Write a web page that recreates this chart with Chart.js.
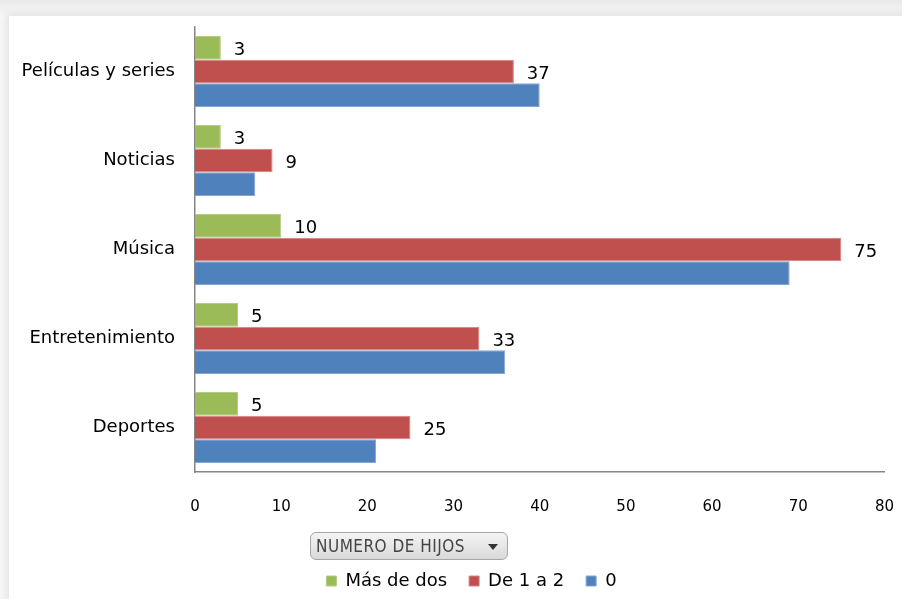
<!DOCTYPE html>
<html>
<head>
<meta charset="utf-8">
<script src="https://cdn.jsdelivr.net/npm/chart.js@4.4.1/dist/chart.umd.min.js"></script>
<style>
  html, body { margin: 0; padding: 0; }
  body {
    width: 902px; height: 599px; overflow: hidden; position: relative;
    background: linear-gradient(to bottom, #e9e9e9 0px, #f7f7f7 16px, #f7f7f7 100%);
    font-family: "DejaVu Sans", sans-serif;
  }
  #card {
    position: absolute; left: 9px; top: 16px; width: 920px; height: 620px;
    background: #ffffff; box-shadow: -3px -3px 8px rgba(0,0,0,0.08);
  }
  #wrap { position: absolute; left: 0; top: 0; width: 920px; height: 599px; }
  #btn {
    position: absolute; left: 310px; top: 532px; width: 198px; height: 28px;
    box-sizing: border-box; border: 1px solid #a6a6a6; border-radius: 6px;
    background: linear-gradient(to bottom, #f4f4f4, #d9d9d9);
    font-family: "DejaVu Sans Condensed", "DejaVu Sans", sans-serif; font-size: 17px;
    color: #444; line-height: 26px; padding-left: 5px; letter-spacing: 0.5px;
    white-space: nowrap;
  }
  #btn .arrow {
    position: absolute; right: 9px; top: 11px; width: 0; height: 0;
    border-left: 5px solid transparent; border-right: 5px solid transparent;
    border-top: 6px solid #333;
  }
</style>
</head>
<body>
<div id="card"></div>
<div id="wrap"><canvas id="c" width="920" height="599"></canvas></div>
<div id="btn">NUMERO DE HIJOS<span class="arrow"></span></div>
<script>
const categories = ["Películas y series", "Noticias", "Música", "Entretenimiento", "Deportes"];
const seriesNames = ["Más de dos", "De 1 a 2", "0"];
const masDeDos = [3, 3, 10, 5, 5];
const de1a2 = [37, 9, 75, 33, 25];
const cero = [40, 7, 69, 36, 21];
const xTicks = [0, 10, 20, 30, 40, 50, 60, 70, 80];
const labelledSeries = [0, 1];

const valueLabels = {
  id: 'valueLabels',
  afterDatasetsDraw(chart) {
    const ctx = chart.ctx;
    ctx.save();
    ctx.font = '18px "DejaVu Sans", sans-serif';
    ctx.fillStyle = '#000';
    ctx.textAlign = 'left';
    ctx.textBaseline = 'middle';
    labelledSeries.forEach(di => {
      const meta = chart.getDatasetMeta(di);
      meta.data.forEach((bar, i) => {
        ctx.fillText(String(chart.data.datasets[di].data[i]), bar.x + 13, bar.y + 3);
      });
    });
    ctx.restore();
  }
};

const legendShift = {
  id: 'legendShift',
  afterLayout(chart) {
    const lg = chart.legend;
    if (!lg) return;
    lg.left += 24; lg.right += 24;
    lg.top += 1; lg.bottom += 1;
  }
};

new Chart(document.getElementById('c'), {
  type: 'bar',
  data: {
    labels: categories,
    datasets: [
      { label: seriesNames[0], data: masDeDos, backgroundColor: '#9BBB59', borderColor: '#b3cc84', borderWidth: 1, borderSkipped: 'start' },
      { label: seriesNames[1], data: de1a2, backgroundColor: '#C0504D', borderColor: '#d38280', borderWidth: 1, borderSkipped: 'start' },
      { label: seriesNames[2], data: cero, backgroundColor: '#4F81BD', borderColor: '#84a7d1', borderWidth: 1, borderSkipped: 'start' }
    ]
  },
  options: {
    indexAxis: 'y',
    responsive: false,
    animation: false,
    events: [],
    categoryPercentage: 0.8,
    barPercentage: 1.0,
    layout: { padding: { top: 27, left: 0, right: 25, bottom: 0 } },
    scales: {
      x: {
        min: 0, max: 80,
        afterBuildTicks(scale) { scale.ticks = xTicks.map(v => ({ value: v })); },
        grid: { display: false, drawTicks: false },
        border: { display: true, color: '#868686', width: 1.5 },
        ticks: { padding: 26, color: '#000', font: { family: '"DejaVu Sans", sans-serif', size: 15 } },
        afterFit(scale) { scale.height += 7; }
      },
      y: {
        afterFit(scale) { scale.width = 195; scale.paddingTop = 0; scale.paddingBottom = 0; },
        grid: { display: false, drawTicks: false },
        border: { display: true, color: '#868686', width: 1.5 },
        ticks: { padding: 20, color: '#000', font: { family: '"DejaVu Sans", sans-serif', size: 18 } }
      }
    },
    plugins: {
      legend: {
        position: 'bottom',
        labels: {
          boxWidth: 10, boxHeight: 10, padding: 22, color: '#000',
          font: { family: '"DejaVu Sans", sans-serif', size: 18 }
        }
      },
      tooltip: { enabled: false }
    }
  },
  plugins: [valueLabels, legendShift]
});
</script>
</body>
</html>
